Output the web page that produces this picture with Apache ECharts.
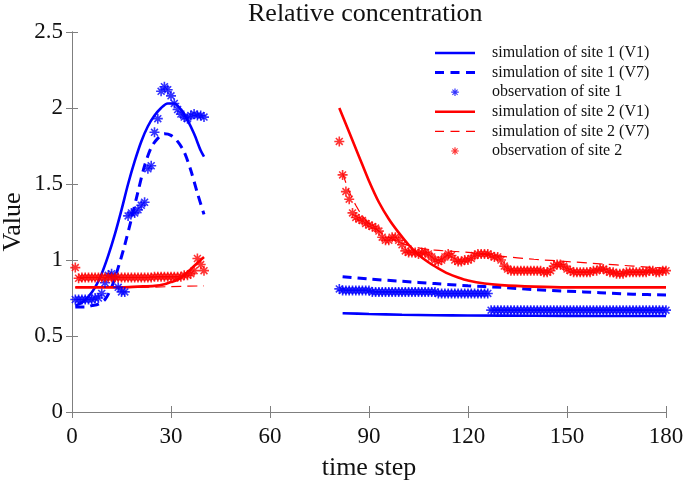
<!DOCTYPE html>
<html><head><meta charset="utf-8">
<script src="https://cdn.jsdelivr.net/npm/echarts@6/dist/echarts.min.js"></script>
<style>html,body{margin:0;padding:0;background:#fff}#c{width:685px;height:486px}</style>
</head><body><div id="c"></div>
<script>
// ---- data ----
const titleText = 'Relative concentration';
const xName = 'time step';
const yName = 'Value';
const legendNames = ['simulation of site 1 (V1)','simulation of site 1 (V7)','observation of site 1',
  'simulation of site 2 (V1)','simulation of site 2 (V7)','observation of site 2'];

// simulation of site 1 (V1): [time, value]
const sim1V1Left = [[1,0.70],[3,0.72],[5,0.76],[7,0.82],[9,0.91],[11,1.03],[13,1.17],[15,1.33],[17,1.50],
  [19,1.65],[21,1.78],[23,1.88],[25,1.95],[27,2.00],[29,2.03],[31,2.03],[33,1.99],[35,1.92],[37,1.83],[39,1.72],[40,1.68]];
const sim1V1Right = [[82,0.65],[90,0.645],[100,0.64],[110,0.637],[120,0.635],[140,0.633],[160,0.632],[180,0.632]];

// simulation of site 1 (V7)
const sim1V7Left = [[1,0.69],[4,0.69],[6,0.70],[8,0.71],[10,0.74],[12,0.82],[14,0.95],[16,1.10],[18,1.27],[20,1.45],
  [22,1.62],[24,1.74],[26,1.80],[28,1.83],[30,1.82],[32,1.78],[34,1.71],[36,1.59],[38,1.44],[40,1.30]];
const sim1V7Right = [[82,0.89],[90,0.875],[100,0.86],[110,0.845],[120,0.83],[130,0.82],[140,0.805],[150,0.795],
  [160,0.785],[170,0.775],[180,0.77]];

// simulation of site 2 (V1)
const sim2V1Left = [[1,0.82],[5,0.82],[10,0.82],[15,0.82],[20,0.825],[25,0.83],[28,0.84],[30,0.855],[32,0.87],
  [34,0.90],[36,0.94],[38,0.98],[40,1.02]];
const sim2V1Right = [[81,2.00],[84,1.84],[87,1.68],[90,1.52],[93,1.38],[96,1.27],[99,1.18],[102,1.10],[105,1.035],
  [108,0.985],[111,0.945],[114,0.91],[117,0.885],[120,0.865],[125,0.845],[130,0.835],[140,0.825],[150,0.82],
  [160,0.82],[170,0.82],[180,0.82]];

// simulation of site 2 (V7)
const sim2V7Left = [[1,0.82],[10,0.82],[20,0.82],[30,0.825],[40,0.83]];
const sim2V7Right = [[82,1.57],[84,1.45],[86,1.36],[88,1.29],[90,1.24],[93,1.19],[96,1.15],[100,1.11],[105,1.08],
  [110,1.065],[120,1.05],[130,1.025],[140,1.005],[150,0.99],[160,0.975],[170,0.96],[180,0.945]];

// observations, one value per time step, starting at the given step
const obs1LeftStart = 1;
const obs1Left = [0.74,0.74,0.74,0.74,0.74,0.74,0.75,0.75,0.78,0.85,0.90,0.91,0.89,0.82,0.79,0.79,1.29,1.31,1.31,1.33,
  1.36,1.38,1.60,1.62,1.84,1.93,2.11,2.14,2.12,2.08,2.03,1.99,1.96,1.94,1.93,1.95,1.96,1.95,1.95,1.94];
const obs1RightStart = 81;
const obs1Right = [0.81,0.80,0.80,0.80,0.80,0.80,0.80,0.80,0.80,0.80,0.79,0.79,0.79,0.79,0.79,0.79,0.79,0.79,0.79,0.79,
  0.79,0.79,0.79,0.79,0.79,0.79,0.79,0.79,0.79,0.79,0.78,0.78,0.78,0.78,0.78,0.78,0.78,0.78,0.78,0.78,
  0.78,0.78,0.78,0.78,0.78,0.78,0.67,0.67,0.67,0.67,0.67,0.67,0.67,0.67,0.67,0.67,0.67,0.67,0.67,0.67,
  0.67,0.67,0.67,0.67,0.67,0.67,0.67,0.67,0.67,0.67,0.67,0.67,0.67,0.67,0.67,0.67,0.67,0.67,0.67,0.67,
  0.67,0.67,0.67,0.67,0.67,0.67,0.67,0.67,0.67,0.67,0.67,0.67,0.67,0.67,0.67,0.67,0.67,0.67,0.67,0.67];
const obs2LeftStart = 1;
const obs2Left = [0.95,0.88,0.885,0.885,0.885,0.885,0.885,0.885,0.885,0.885,0.885,0.885,0.885,0.885,0.885,0.885,
  0.885,0.885,0.885,0.885,0.885,0.885,0.885,0.885,0.89,0.89,0.89,0.89,0.89,0.89,0.89,0.89,0.89,0.90,0.90,0.91,
  0.93,1.01,0.97,0.93];
const obs2RightStart = 81;
const obs2Right = [1.78,1.56,1.45,1.40,1.31,1.28,1.27,1.26,1.24,1.23,1.22,1.21,1.19,1.15,1.13,1.13,1.15,1.15,1.13,1.10,
  1.06,1.05,1.05,1.05,1.04,1.05,1.05,1.04,1.02,1.00,0.99,1.00,1.02,1.04,1.03,1.00,0.99,0.99,1.00,1.00,
  1.01,1.03,1.04,1.04,1.04,1.04,1.03,1.02,1.02,1.00,0.96,0.94,0.93,0.93,0.93,0.93,0.93,0.93,0.93,0.93,
  0.93,0.93,0.92,0.92,0.93,0.96,0.97,0.97,0.96,0.94,0.93,0.92,0.92,0.92,0.92,0.92,0.92,0.93,0.93,0.94,
  0.94,0.93,0.92,0.92,0.91,0.91,0.91,0.92,0.92,0.92,0.92,0.92,0.92,0.92,0.93,0.93,0.92,0.92,0.93,0.93];

// ---- build ----
const BLUE = '#0000ff', RED = '#ff0000';
const FONT = '"Liberation Serif","Times New Roman",serif';
const STAR = 'path://M0 4.2L10 4.2L10 5.8L0 5.8Z M4.2 0L5.8 0L5.8 10L4.2 10Z M1.0 2.1L2.1 1.0L9.0 7.9L7.9 9.0Z M7.9 1.0L9.0 2.1L2.1 9.0L1.0 7.9Z';
// legend icons: a 40x14 box, marked by two tiny corner specks so the shape keeps its place
const BOX = 'M0 0L0.05 0L0 0.05Z M40 14L39.95 14L40 13.95Z ';
const ICON_STAR = 'path://' + BOX + 'M16.2 6.4L23.8 6.4L23.8 7.6L16.2 7.6Z M19.4 3.2L20.6 3.2L20.6 10.8L19.4 10.8Z M17.05 4.75L17.75 4.05L22.95 9.25L22.25 9.95Z M22.25 4.05L22.95 4.75L17.75 9.95L17.05 9.25Z';
const ICON_SOLID = 'path://' + BOX + 'M0 5.7L40 5.7L40 8.3L0 8.3Z';
const ICON_DASH_THICK = 'path://' + BOX + 'M0 5.5L9 5.5L9 8.5L0 8.5Z M15.5 5.5L24.5 5.5L24.5 8.5L15.5 8.5Z M31 5.5L40 5.5L40 8.5L31 8.5Z';
const ICON_DASH_THIN = 'path://' + BOX + 'M0 6.4L9 6.4L9 7.6L0 7.6Z M15.5 6.4L24.5 6.4L24.5 7.6L15.5 7.6Z M31 6.4L40 6.4L40 7.6L31 7.6Z';

function joinParts(a, b) { return a.concat([[60, null]], b); }
function obsPairs(start, vals) { return vals.map((v, i) => [start + i, v]); }

const lineBase = { type: 'line', symbol: 'none', showSymbol: false, smooth: 0.3, connectNulls: false, animation: false };

const series = [
  Object.assign({}, lineBase, { name: legendNames[0], data: joinParts(sim1V1Left, sim1V1Right),
    lineStyle: { color: BLUE, width: 2.6, type: 'solid' }, itemStyle: { color: BLUE }, z: 3 }),
  Object.assign({}, lineBase, { name: legendNames[1], data: joinParts(sim1V7Left, sim1V7Right),
    lineStyle: { color: BLUE, width: 3, type: [9, 6] }, itemStyle: { color: BLUE }, z: 3 }),
  { type: 'scatter', name: legendNames[2], data: obsPairs(obs1LeftStart, obs1Left).concat(obsPairs(obs1RightStart, obs1Right)),
    symbol: STAR, symbolSize: 10, itemStyle: { color: BLUE }, animation: false, z: 4 },
  Object.assign({}, lineBase, { name: legendNames[3], data: joinParts(sim2V1Left, sim2V1Right),
    lineStyle: { color: RED, width: 2.6, type: 'solid' }, itemStyle: { color: RED }, z: 3 }),
  Object.assign({}, lineBase, { name: legendNames[4], data: joinParts(sim2V7Left, sim2V7Right),
    lineStyle: { color: RED, width: 1.2, type: [10, 6] }, itemStyle: { color: RED }, z: 3 }),
  { type: 'scatter', name: legendNames[5], data: obsPairs(obs2LeftStart, obs2Left).concat(obsPairs(obs2RightStart, obs2Right)),
    symbol: STAR, symbolSize: 10, itemStyle: { color: RED }, animation: false, z: 4 }
];

const axisLineStyle = { color: '#7f7f7f', width: 1 };
const chart = echarts.init(document.getElementById('c'), null, { renderer: 'canvas' });
chart.setOption({
  backgroundColor: '#fff',
  animation: false,
  grid: { left: 72, right: 19, top: 32, bottom: 74, containLabel: false, outerBoundsMode: 'none' },
  graphic: [{ type: 'text', left: 368 - 120, top: 1,
    style: { text: titleText, font: '26px ' + FONT, fill: '#111' } }],
  legend: {
    orient: 'vertical', left: 435, top: 45, padding: 0, itemWidth: 40, itemHeight: 14, itemGap: 3.6,
    selectedMode: false,
    textStyle: { fontFamily: FONT, fontSize: 16, color: '#111', padding: [0, 0, 0, 12] },
    data: [
      { name: legendNames[0], icon: ICON_SOLID, itemStyle: { color: BLUE } },
      { name: legendNames[1], icon: ICON_DASH_THICK, itemStyle: { color: BLUE } },
      { name: legendNames[2], icon: ICON_STAR, itemStyle: { color: BLUE } },
      { name: legendNames[3], icon: ICON_SOLID, itemStyle: { color: RED } },
      { name: legendNames[4], icon: ICON_DASH_THIN, itemStyle: { color: RED } },
      { name: legendNames[5], icon: ICON_STAR, itemStyle: { color: RED } }
    ]
  },
  xAxis: [
    { type: 'value', min: 0, max: 180, interval: 30, position: 'bottom',
      name: xName, nameLocation: 'middle', nameGap: 43,
      nameTextStyle: { fontFamily: FONT, fontSize: 26, color: '#111' },
      axisLine: { show: true, lineStyle: axisLineStyle },
      axisTick: { show: true, inside: true, length: 6, lineStyle: axisLineStyle },
      axisLabel: { fontFamily: FONT, fontSize: 23, color: '#111', margin: 13 },
      splitLine: { show: false } },
    { type: 'value', min: 0, max: 180, interval: 30, position: 'top',
      axisLine: { show: true, lineStyle: axisLineStyle },
      axisTick: { show: true, inside: true, length: 6, lineStyle: axisLineStyle },
      axisLabel: { show: false }, splitLine: { show: false } }
  ],
  yAxis: [
    { type: 'value', min: 0, max: 2.5, interval: 0.5, position: 'left',
      name: yName, nameLocation: 'middle', nameGap: 46, nameRotate: 90, nameMoveOverlap: false,
      nameTextStyle: { fontFamily: FONT, fontSize: 26, color: '#111' },
      axisLine: { show: true, lineStyle: axisLineStyle },
      axisTick: { show: true, inside: true, length: 6, lineStyle: axisLineStyle },
      axisLabel: { fontFamily: FONT, fontSize: 23, color: '#111', margin: 9 },
      splitLine: { show: false } },
    { type: 'value', min: 0, max: 2.5, interval: 0.5, position: 'right',
      axisLine: { show: true, lineStyle: axisLineStyle },
      axisTick: { show: true, inside: true, length: 6, lineStyle: axisLineStyle },
      axisLabel: { show: false }, splitLine: { show: false } }
  ],
  series: series
});
</script>
</body></html>
